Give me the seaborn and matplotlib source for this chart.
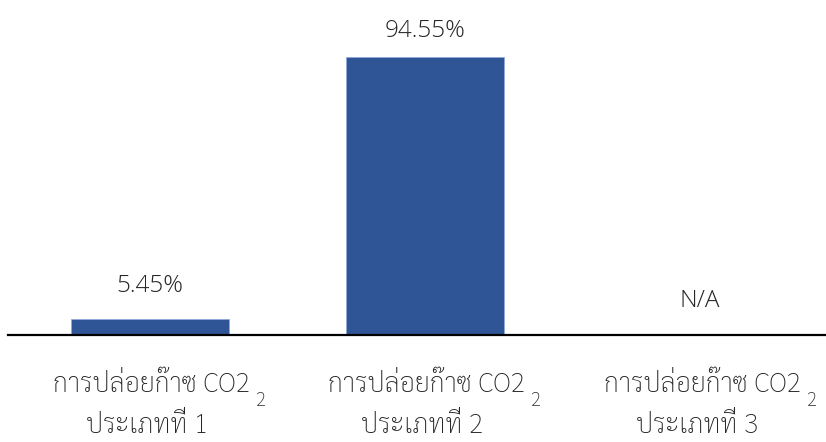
import numpy as np
import pandas as pd
import matplotlib
matplotlib.use("Agg")
import matplotlib.pyplot as plt
import seaborn as sns

# Emission shares by type (type 3 has no data)
categories = ["ประเภทที่ 1", "ประเภทที่ 2", "ประเภทที่ 3"]
shares = [5.45, 94.55, np.nan]
line1_text = "การปล่อยก๊าซ CO2"
sub_text = "2"

BAR_COLOR = "#2F5597"
TEXT_COLOR = "#262626"
THAI_FONT = ["Sarabun", "DejaVu Sans"]
NUM_FONT = ["Open Sans", "DejaVu Sans"]

sns.set_theme(style="white")
plt.rcParams["font.family"] = NUM_FONT

df = pd.DataFrame({"category": categories, "share": shares})

fig = plt.figure(figsize=(8.26, 4.42), dpi=100)
ax = fig.add_axes([8 / 826, (442 - 335) / 442, 818 / 826, 335 / 442])

sns.barplot(data=df, x="category", y="share", order=categories,
            color=BAR_COLOR, saturation=1, width=0.572, errorbar=None,
            edgecolor="#8FAADC", linewidth=0.6, ax=ax)

ax.set_xlim(-0.516, 2.458)
ax.set_ylim(0, 113.9)
ax.set_xlabel("")
ax.set_ylabel("")
ax.set_xticks([])
ax.set_yticks([])
for side in ["top", "left", "right"]:
    ax.spines[side].set_visible(False)
ax.spines["bottom"].set_color("black")
ax.spines["bottom"].set_linewidth(1.6)

# value labels above each bar
label_gap = [27, 20, 28]
for i, v in enumerate(shares):
    has_val = not np.isnan(v)
    txt = f"{v:.2f}%" if has_val else "N/A"
    ax.annotate(txt, xy=(i, v if has_val else 0), xycoords="data",
                xytext=(0, label_gap[i]), textcoords="offset pixels",
                ha="center", va="baseline", fontsize=17.5, color=TEXT_COLOR,
                family=NUM_FONT, fontweight="light")

# two-line category labels with a lowered "2"
for i, cat in enumerate(categories):
    t1 = ax.annotate(line1_text, xy=(i, 0), xycoords=("data", "axes fraction"),
                     xytext=(2, -57), textcoords="offset pixels",
                     ha="center", va="baseline", fontsize=19.3, color=TEXT_COLOR,
                     family=THAI_FONT, fontweight="light")
    ax.annotate(sub_text, xy=(1, 0), xycoords=t1,
                xytext=(6, -8), textcoords="offset pixels",
                ha="left", va="baseline", fontsize=13.5, color=TEXT_COLOR,
                family=THAI_FONT, fontweight="light")
    ax.annotate(cat, xy=(i, 0), xycoords=("data", "axes fraction"),
                xytext=(-3, -98), textcoords="offset pixels",
                ha="center", va="baseline", fontsize=19.3, color=TEXT_COLOR,
                family=THAI_FONT, fontweight="light")

fig.savefig("out.png", dpi=100)
